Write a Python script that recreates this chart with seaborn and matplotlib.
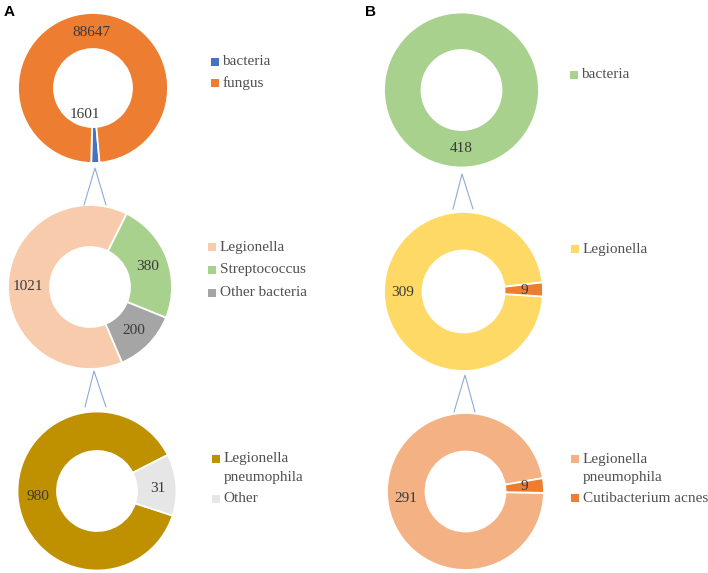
import matplotlib
matplotlib.use("Agg")
import matplotlib.pyplot as plt
import seaborn as sns

sns.set_theme(style="white")
plt.rcParams['font.family'] = ['Liberation Serif', 'DejaVu Serif']

W, H = 708, 573

# ---------------- data ----------------
a1_labels = ["bacteria", "fungus"]
a1_values = [1601, 88647]

a2_labels = ["Legionella", "Streptococcus", "Other bacteria"]
a2_values = [1021, 380, 200]

a3_labels = ["Legionella\npneumophila", "Other"]
a3_values = [980, 31]
a3_shares = [87.5, 12.5]   # drawn proportions (%)

b1_labels = ["bacteria"]
b1_values = [418]

b2_labels = ["Legionella", ""]
b2_values = [309, 9]

b3_labels = ["Legionella\npneumophila", "Cutibacterium acnes"]
b3_values = [291, 9]

# ---------------- style ----------------
a1_colors = ["#4472c4", "#ed7d31"]
a2_colors = ["#f8cbad", "#a9d18e", "#a5a5a5"]
a3_colors = ["#bf9000", "#e7e6e6"]
b1_colors = ["#a9d18e"]
b2_colors = ["#ffd966", "#ed7d31"]
b3_colors = ["#f4b183", "#ed7d31"]

LABEL_C = "#3a3a3a"
LEG_C = "#505050"
LINE_C = "#8eaadb"
FS = 11

fig = plt.figure(figsize=(W / 100, H / 100), dpi=100)
ax = fig.add_axes([0, 0, 1, 1])


def Y(y):
    return H - y


def donut(sizes, colors, cx, cy, r_out, r_in, start_cw):
    ax.pie(sizes, colors=colors, center=(cx, Y(cy)), radius=r_out,
           startangle=90 - start_cw, counterclock=False,
           wedgeprops=dict(width=r_out - r_in, edgecolor="white", linewidth=1.3))


def label(txt, x, y):
    ax.text(x, Y(y), str(txt), ha="center", va="center", fontsize=FS, color=LABEL_C)


def legend(entries, colors, x, ys):
    for lab, col, y in zip(entries, colors, ys):
        if not lab:
            continue
        ax.scatter([x], [Y(y)], marker="s", s=26, color=col, linewidths=0)
        for i, line in enumerate(lab.split("\n")):
            ax.text(x + 8, Y(y + i * 19), line, ha="left", va="center",
                    fontsize=FS, color=LEG_C)


def connector(apex, left, right):
    xs = [left[0], apex[0], right[0]]
    ys = [Y(left[1]), Y(apex[1]), Y(right[1])]
    ax.plot(xs, ys, color=LINE_C, lw=0.8)


# ---------------- panel A ----------------
donut(a1_values, a1_colors, 93, 88, 75, 39, 175)
label(a1_values[1], 91, 32)
label(a1_values[0], 85, 114)
legend(a1_labels, a1_colors, 214.5, [61.5, 83])

donut(a2_values, a2_colors, 90, 287, 82, 40, 157)
label(a2_values[0], 28, 287)
label(a2_values[1], 148, 267)
label(a2_values[2], 134, 331)
legend(a2_labels, a2_colors, 212, [247, 270, 293])

donut(a3_shares, a3_colors, 97, 491, 79.5, 40, 108)
label(a3_values[0], 38, 497)
label(a3_values[1], 158, 488)
legend(a3_labels, a3_colors, 215.5, [458.5, 499])

connector((95, 168), (84, 205), (106, 205))
connector((94, 371), (85, 407), (106, 407))

# ---------------- panel B ----------------
donut(b1_values, b1_colors, 461.5, 90, 77.5, 40, 0)
label(b1_values[0], 461, 149)
legend(b1_labels, b1_colors, 573.5, [74.5])

donut(b2_values, b2_colors, 463.5, 291.5, 79.5, 41, 93.6)
label(b2_values[0], 402.5, 293)
label(b2_values[1], 524, 291)
legend(b2_labels, b2_colors, 575, [249])

donut(b3_values, b3_colors, 465.5, 491.5, 78.5, 40, 91)
label(b3_values[0], 406, 498)
label(b3_values[1], 524.5, 487)
legend(b3_labels, b3_colors, 575, [459, 498])

connector((462, 174), (453, 209), (473, 209))
connector((465, 375), (454, 412), (475, 412))

# panel letters
ax.text(4, Y(12), "A", fontsize=11, fontweight="bold", family="Liberation Sans",
        ha="left", va="center", color="black")
ax.text(365, Y(12), "B", fontsize=11, fontweight="bold", family="Liberation Sans",
        ha="left", va="center", color="black")

ax.set_xlim(0, W)
ax.set_ylim(0, H)
ax.set_aspect("auto")
ax.axis("off")

fig.savefig("out.png", dpi=100, facecolor="white")
